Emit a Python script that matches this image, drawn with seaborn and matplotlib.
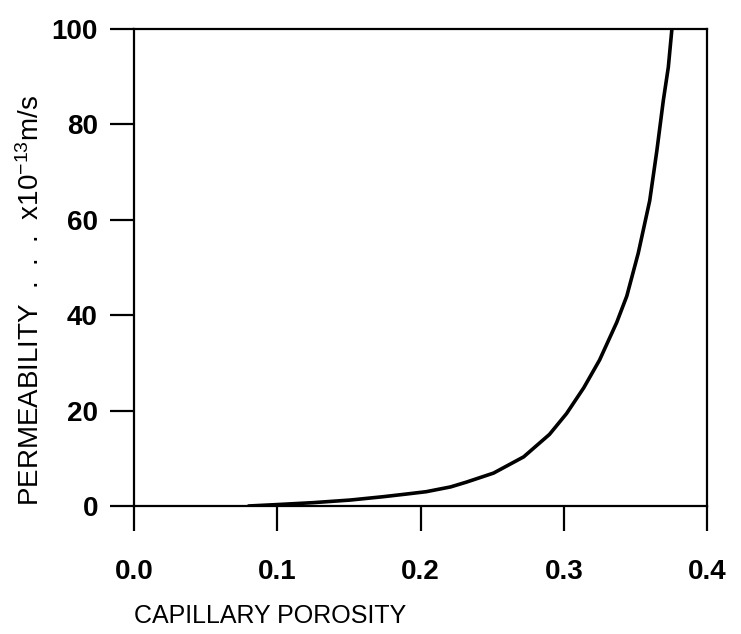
import matplotlib
matplotlib.use("Agg")
import matplotlib.pyplot as plt
import pandas as pd
import seaborn as sns
from matplotlib.ticker import FormatStrFormatter

# Data
porosity = [0.08, 0.10, 0.125, 0.151, 0.174, 0.19, 0.204, 0.221, 0.232, 0.251,
            0.272, 0.29, 0.302, 0.314, 0.325, 0.337, 0.344, 0.352, 0.360,
            0.365, 0.3695, 0.373, 0.3755]
permeability = [0.0, 0.3, 0.7, 1.25, 1.95, 2.5, 3.0, 4.0, 5.0, 6.9,
                10.3, 15.0, 19.4, 24.8, 30.6, 38.5, 44.0, 53.0, 64.0,
                74.5, 85.0, 92.0, 100.0]
x_ticks = [0.0, 0.1, 0.2, 0.3, 0.4]
y_ticks = [0, 20, 40, 60, 80, 100]

sns.set_style("ticks")
plt.rcParams.update({
    "font.family": ["Liberation Sans", "DejaVu Sans"],
    "mathtext.fontset": "custom",
    "mathtext.rm": "Liberation Sans",
    "mathtext.it": "Liberation Sans",
    "mathtext.bf": "Liberation Sans:bold",
    "text.color": "black",
    "axes.labelcolor": "black",
    "xtick.color": "black",
    "ytick.color": "black",
    "axes.linewidth": 1.6,
    "xtick.major.width": 1.6,
    "ytick.major.width": 1.6,
    "xtick.major.size": 18,
    "ytick.major.size": 17,
})

df = pd.DataFrame({"porosity": porosity, "permeability": permeability})

fig = plt.figure(figsize=(7.41, 6.34), dpi=100)
ax = fig.add_axes([134 / 741, 1 - 506 / 634, 573 / 741, 477 / 634])

sns.lineplot(data=df, x="porosity", y="permeability", ax=ax,
             color="black", linewidth=2.6, estimator=None)

ax.set_xlim(0, 0.4)
ax.set_ylim(0, 100)
ax.set_xticks(x_ticks)
ax.set_yticks(y_ticks)
ax.xaxis.set_major_formatter(FormatStrFormatter("%.1f"))
ax.tick_params(axis="x", direction="out", pad=20, labelsize=20)
ax.tick_params(axis="y", direction="out", pad=9, labelsize=20)
for lab in ax.get_xticklabels() + ax.get_yticklabels():
    lab.set_fontweight("bold")

for side in ["top", "right", "left", "bottom"]:
    ax.spines[side].set_visible(True)
    ax.spines[side].set_color("black")

ax.set_xlabel("CAPILLARY POROSITY", fontsize=18, loc="left")
ax.xaxis.set_label_coords(0.0, -0.205)
ax.set_ylabel(r"PERMEABILITY  .  .  .  x10$^{-13}$m/s", fontsize=20, loc="bottom")
ax.yaxis.set_label_coords(-0.155, 0.0)

fig.savefig("out.png", dpi=100)
plt.close(fig)
